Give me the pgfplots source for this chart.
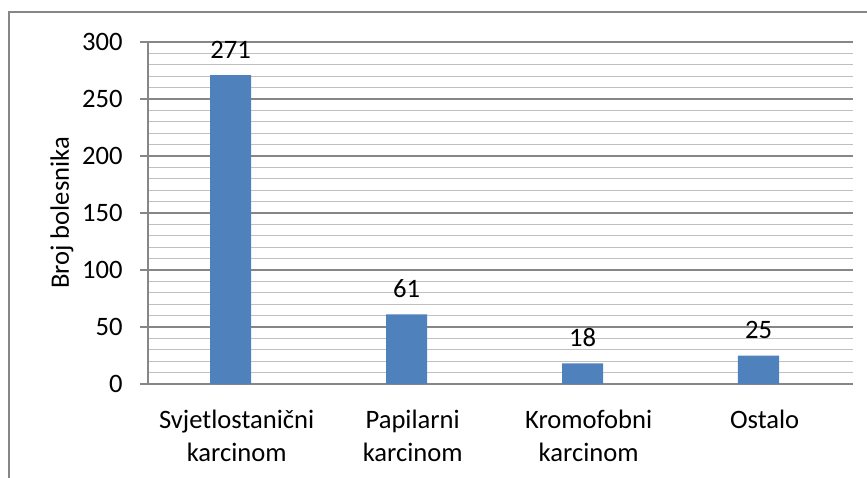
\documentclass[border=0pt]{standalone}
\usepackage{pgfplots}
\pgfplotsset{compat=1.18}
\usepackage{fontspec}
\setmainfont{Carlito}
\definecolor{barblue}{HTML}{4F81BD}
\definecolor{majgrid}{HTML}{868686}
\definecolor{mingrid}{HTML}{C0C0C0}
\begin{document}
\fontsize{13.3pt}{16.5pt}\selectfont
\begin{tikzpicture}[x=1pt,y=1pt]
\useasboundingbox (-74,-46.5) rectangle (359.5,192);
\draw[majgrid, line width=1pt] (-69.5,-80) rectangle (400,186);
\begin{axis}[
  at={(0,0)}, anchor=south west,
  scale only axis, width=352.5pt, height=171pt,
  xmin=-0.469, xmax=3.537,
  ymin=0, ymax=300,
  ytick={0,50,...,300},
  minor y tick num=4,
  ymajorgrids, yminorgrids,
  major grid style={majgrid, line width=0.6pt},
  minor grid style={mingrid, line width=0.6pt},
  axis x line*=bottom, axis y line*=left,
  axis line style={majgrid, line width=0.6pt},
  tick align=outside,
  major tick length=4pt, minor tick length=0pt,
  ytick style={majgrid, line width=0.6pt},
  xtick style={draw=none},
  xtick={0.035,1.035,2.035,3.035},
  xticklabels={{Svjetlostanični\\karcinom},{Papilarni\\karcinom},{Kromofobni\\karcinom},{Ostalo}},
  xticklabel style={align=center, anchor=north, inner sep=0pt, yshift=-9pt},
  yticklabel style={anchor=east, inner sep=0pt, xshift=-8.5pt},
  /pgf/number format/assume math mode=true,
  ylabel={Broj bolesnika},
  every axis y label/.style={at={(axis description cs:0,0.5)}, xshift=-43pt, rotate=90, anchor=center},
  ybar, bar width=0.233,
  nodes near coords,
  every node near coord/.append style={anchor=south, inner sep=0pt, yshift=8pt, black},
  clip=false,
]
\addplot[fill=barblue, draw=none] coordinates {(0,271) (1,61) (2,18) (3,25)};
\end{axis}
\end{tikzpicture}
\end{document}
